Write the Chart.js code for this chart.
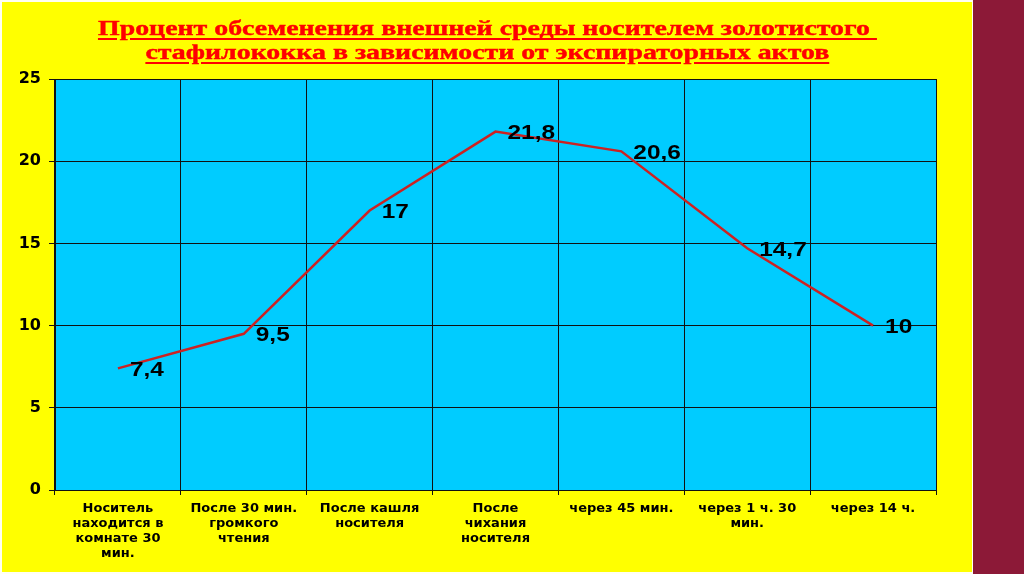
<!DOCTYPE html>
<html><head><meta charset="utf-8">
<script src="https://cdn.jsdelivr.net/npm/chart.js@4"></script>
<style>
html,body{margin:0;padding:0;background:#fff;}
#page{position:relative;width:1024px;height:574px;overflow:hidden;background:#fffff4;}
#yellow{position:absolute;left:2px;top:2px;width:970px;height:570px;background:#ffff00;}
#stripe{position:absolute;left:973px;top:0;width:51px;height:574px;background:#8c1937;}
canvas{position:absolute;left:0;top:0;}
#title{position:absolute;left:0;width:975px;top:16px;text-align:center;font-family:"Liberation Serif","Times New Roman",serif;font-weight:bold;font-size:20px;line-height:24px;color:#ff0000;-webkit-text-stroke:0.4px #ff0000;}
#title span{display:inline-block;text-decoration:underline;text-decoration-thickness:2px;text-underline-offset:3px;white-space:pre;transform-origin:center;}
</style></head>
<body><div id="page"><div id="yellow"></div><div id="stripe"></div>
<canvas id="c" width="1024" height="574"></canvas>
<div id="title"><span id="t1"></span><br><span id="t2"></span></div>
</div>
<script>
const titleLines = ["Процент обсеменения внешней среды носителем золотистого ", "стафилококка в зависимости от экспираторных актов"];
const categories = [
  ["Носитель","находится в","комнате 30","мин."],
  ["После 30 мин.","громкого","чтения"],
  ["После кашля","носителя"],
  ["После","чихания","носителя"],
  ["через 45 мин."],
  ["через 1 ч. 30","мин."],
  ["через 14 ч."]
];
const values = [7.4, 9.5, 17, 21.8, 20.6, 14.7, 10];
const valueLabels = ["7,4", "9,5", "17", "21,8", "20,6", "14,7", "10"];
const yTicks = [0, 5, 10, 15, 20, 25];

// title
const t1 = document.getElementById('t1'), t2 = document.getElementById('t2');
t1.textContent = titleLines[0]; t2.textContent = titleLines[1];
const sx = 779 / t1.getBoundingClientRect().width;
t1.style.transform = 'scaleX(' + sx + ')';
t2.style.transform = 'scaleX(' + sx + ')';

const plotBg = {
  id: 'plotBg',
  beforeDraw(chart) {
    const {ctx, chartArea: a} = chart;
    ctx.save();
    ctx.fillStyle = '#00ccff';
    ctx.fillRect(a.left, a.top, a.right - a.left, a.bottom - a.top);
    ctx.restore();
  }
};
const valueLabelPlugin = {
  id: 'valueLabels',
  afterDatasetsDraw(chart) {
    const meta = chart.getDatasetMeta(0);
    const ctx = chart.ctx;
    ctx.save();
    ctx.font = 'bold 20px "Liberation Sans", Arial, sans-serif';
    ctx.fillStyle = '#000';
    ctx.textBaseline = 'middle';
    ctx.textAlign = 'left';
    meta.data.forEach((pt, i) => {
      ctx.save();
      ctx.translate(pt.x + 12, pt.y + 2);
      ctx.scale(1.22, 1);
      ctx.fillText(valueLabels[i], 0, 0);
      ctx.restore();
    });
    ctx.restore();
  }
};

const tickFontX = {family: '"DejaVu Sans", sans-serif', weight: 'bold', size: 13, lineHeight: 1.15};
const tickFontY = {family: '"DejaVu Sans", sans-serif', weight: 'bold', size: 16};

new Chart(document.getElementById('c'), {
  type: 'line',
  data: {
    labels: categories,
    datasets: [{
      data: values,
      borderColor: '#cc2222',
      borderWidth: 2.5,
      pointRadius: 0,
      tension: 0,
      fill: false
    }]
  },
  options: {
    responsive: false,
    animation: false,
    devicePixelRatio: 1,
    layout: {padding: {left: 0, top: 79, right: 88, bottom: 0}},
    plugins: {legend: {display: false}, title: {display: false}, tooltip: {enabled: false}},
    scales: {
      x: {
        offset: true,
        grid: {offset: true, color: '#111', lineWidth: 1, tickLength: 5, drawTicks: true},
        border: {color: '#111'},
        ticks: {autoSkip: false, maxRotation: 0, minRotation: 0, padding: 6, color: '#000', font: tickFontX},
        afterFit(s) { s.height = 84; }
      },
      y: {
        min: 0, max: 25,
        afterBuildTicks(s) { s.ticks = yTicks.map(v => ({value: v})); },
        ticks: {padding: 8, color: '#000', font: tickFontY},
        grid: {color: '#111', lineWidth: 1, tickLength: 6},
        border: {color: '#111'},
        afterFit(s) { s.width = 55; }
      }
    }
  },
  plugins: [plotBg, valueLabelPlugin]
});
</script>
</body></html>
